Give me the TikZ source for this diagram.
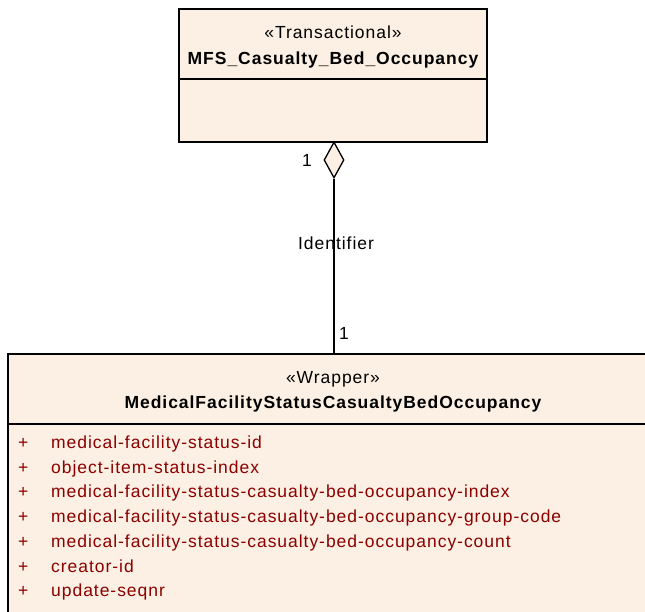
\documentclass[tikz,border=0pt]{standalone}
\usepackage{fontspec}
\setmainfont{Liberation Sans}[LetterSpace=5.5]
\usetikzlibrary{shapes.geometric}

\definecolor{classfill}{RGB}{251,240,227}
\definecolor{attrred}{RGB}{140,0,0}

\tikzset{
	classbox/.style={draw, line width=1.6pt, fill=classfill, inner sep=0pt},
	txt/.style={font=\fontsize{17.5}{21}\selectfont, inner sep=0pt, anchor=base},
	bold/.style={txt, font=\fontsize{17.5}{21}\selectfont\bfseries},
	attr/.style={txt, text=attrred, anchor=base west}
}

\begin{document}
\begin{tikzpicture}[x=1pt, y=-1pt]
		
		\useasboundingbox (0,0) rectangle (645,611);
		\clip (0,0) rectangle (645,611);
		
		% Clase superior
		\node[classbox, minimum width=308, minimum height=133] (txn) at (333,75.5) {};
		\draw[line width=1.6pt] (179,79) -- (487,79);
		\node[txt] (txnstereo) at (333,38) {«Transactional»};
		\node[bold] (txnname) at (333,64) {MFS\_Casualty\_Bed\_Occupancy};
		
		% Clase inferior
		\node[classbox, minimum width=652, minimum height=300] (wrap) at (334,504) {};
		\draw[line width=1.6pt] (8,424) -- (660,424);
		\node[txt] (wrapstereo) at (333,383) {«Wrapper»};
		\node[bold] (wrapname) at (333,408) {MedicalFacilityStatusCasualtyBedOccupancy};
		
		% Atributos
		\node[attr] (p1) at (18,448) {+};
		\node[attr] (a1) at (51,448) {medical-facility-status-id};
		\node[attr] (p2) at (18,473) {+};
		\node[attr] (a2) at (51,473) {object-item-status-index};
		\node[attr] (p3) at (18,497) {+};
		\node[attr] (a3) at (51,497) {medical-facility-status-casualty-bed-occupancy-index};
		\node[attr] (p4) at (18,522) {+};
		\node[attr] (a4) at (51,522) {medical-facility-status-casualty-bed-occupancy-group-code};
		\node[attr] (p5) at (18,547) {+};
		\node[attr] (a5) at (51,547) {medical-facility-status-casualty-bed-occupancy-count};
		\node[attr] (p6) at (18,572) {+};
		\node[attr] (a6) at (51,572) {creator-id};
		\node[attr] (p7) at (18,596) {+};
		\node[attr] (a7) at (51,596) {update-seqnr};
		
		% Agregacion
		\node[draw, line width=1.3pt, fill=classfill, shape=diamond, inner sep=0pt,
			minimum width=20, minimum height=36] (agg) at (334,160) {};
		\node[txt] (roleid) at (336,249) {Identifier};
		\draw[line width=1.3pt] (agg.south) -- (wrap.north);
		\node[txt] (multtop) at (307,166) {1};
		\node[txt] (multbot) at (344,339) {1};
		
	\end{tikzpicture}
\end{document}
